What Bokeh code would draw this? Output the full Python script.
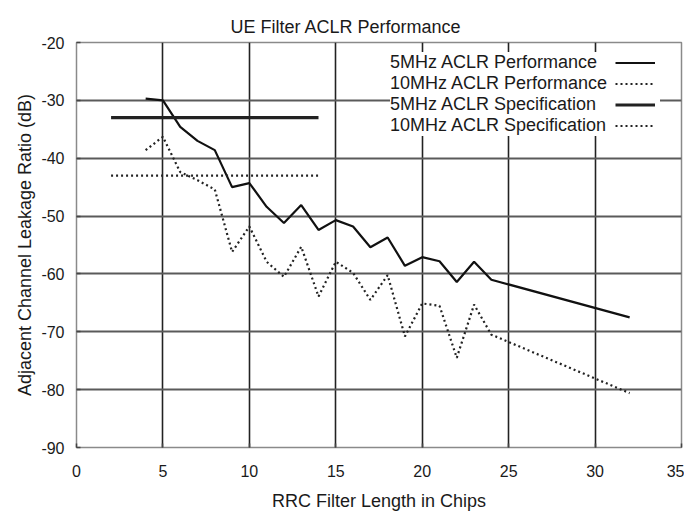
from bokeh.plotting import figure
from bokeh.models import Range1d, Legend, LegendItem, FixedTicker, LinearAxis
from bokeh.embed import file_html
from bokeh.resources import INLINE

# ---- data ----
filter_len = [4, 5, 6, 7, 8, 9, 10, 11, 12, 13, 14, 15, 16, 17, 18, 19, 20, 21, 22, 23, 24, 32]
aclr_5mhz = [-29.7, -30.0, -34.6, -37.0, -38.6, -45.0, -44.3, -48.4, -51.2, -48.1, -52.4,
             -50.7, -51.8, -55.4, -53.7, -58.6, -57.1, -57.8, -61.4, -57.9, -61.0, -67.5]
aclr_10mhz = [-38.6, -36.3, -42.4, -43.8, -45.4, -56.2, -51.8, -57.9, -60.5, -55.3, -63.9,
              -57.9, -59.8, -64.5, -60.2, -70.8, -65.1, -65.5, -74.5, -65.3, -70.5, -80.6]
spec_len = [2, 14]
spec_5mhz = [-33.0, -33.0]
spec_10mhz = [-43.0, -43.0]

x_ticks = [0, 5, 10, 15, 20, 25, 30, 35]
y_ticks = [-90, -80, -70, -60, -50, -40, -30, -20]
x_grid = [5, 10, 15, 20, 25, 30]
y_grid = [-80, -70, -60, -50, -40, -30]

title_text = "UE Filter ACLR Performance"
labels = ["5MHz ACLR Performance", "10MHz ACLR Performance",
          "5MHz ACLR Specification", "10MHz ACLR Specification"]

FONT = "Liberation Sans"
TXT = "#1a1a1a"

p = figure(width=684, height=513, output_backend="svg", toolbar_location=None,
           x_range=Range1d(0, 35), y_range=Range1d(-90, -20), title=title_text,
           min_border_left=76, min_border_right=3, min_border_top=42, min_border_bottom=65)

xax = p.below[0]
yax = p.left[0]

p.title.text_font = FONT
p.title.text_font_size = "18px"
p.title.text_font_style = "normal"
p.title.text_color = TXT
p.title.align = "left"
p.title.offset = 154
p.title.vertical_align = "top"
p.title.standoff = 8

p.outline_line_color = "#8a8a8a"
p.outline_line_width = 1.5
p.background_fill_color = "white"
p.border_fill_color = "white"

for ax, ticks in ((xax, x_ticks), (yax, y_ticks)):
    ax.ticker = FixedTicker(ticks=ticks)
    ax.major_label_overrides = {t: str(t) for t in ticks}
    ax.axis_line_color = None
    ax.major_tick_in = 4
    ax.major_tick_out = 0
    ax.major_tick_line_color = "#444"
    ax.major_tick_line_width = 1.5
    ax.minor_tick_line_color = None
    ax.major_label_text_font = FONT
    ax.major_label_text_font_size = "16px"
    ax.major_label_text_color = TXT
    ax.axis_label_text_font = FONT
    ax.axis_label_text_font_size = "18px"
    ax.axis_label_text_font_style = "normal"
    ax.axis_label_text_color = TXT

xax.axis_label = "RRC Filter Length in Chips"
yax.axis_label = "Adjacent Channel Leakage Ratio (dB)"
xax.major_label_standoff = 17
yax.major_label_standoff = 12
xax.axis_label_standoff = 11
yax.axis_label_standoff = 3

# empty top axis used only as a spacer between the title and the frame
spacer = LinearAxis(ticker=FixedTicker(ticks=[]), axis_line_color=None,
                    major_tick_out=11, major_tick_in=0, major_label_standoff=0,
                    major_tick_line_color=None, minor_tick_line_color=None)
p.add_layout(spacer, "above")

p.xgrid.ticker = FixedTicker(ticks=x_grid)
p.ygrid.ticker = FixedTicker(ticks=y_grid)
p.xgrid.grid_line_color = "#222"
p.xgrid.grid_line_width = 1.6
p.ygrid.grid_line_color = "#5a5a5a"
p.ygrid.grid_line_width = 2

r5 = p.line(filter_len, aclr_5mhz, line_color="#111", line_width=2.2)
r10 = p.line(filter_len, aclr_10mhz, line_color="#222", line_width=2.2, line_dash="2 3")
rs5 = p.line(spec_len, spec_5mhz, line_color="#222", line_width=3.2)
rs10 = p.line(spec_len, spec_10mhz, line_color="#222", line_width=2.2, line_dash="2 3")
rends = [r5, r10, rs5, rs10]

leg_text = Legend(items=[LegendItem(label=l, renderers=[r]) for l, r in zip(labels, rends)],
                  location=(314, 311), glyph_width=0, glyph_height=21, label_height=21,
                  label_width=226, label_standoff=0, spacing=0, padding=4, margin=0,
                  label_text_font=FONT, label_text_font_size="18px",
                  label_text_color=TXT, border_line_color=None,
                  background_fill_color="white", background_fill_alpha=1.0)
leg_glyph = Legend(items=[LegendItem(label="\u00a0", renderers=[r]) for r in rends],
                   location=(539, 311), glyph_width=40, glyph_height=21, label_height=21,
                   label_width=0, label_standoff=0, spacing=0, padding=4, margin=0,
                   label_text_font=FONT, label_text_font_size="18px",
                   border_line_color=None,
                   background_fill_color="white", background_fill_alpha=1.0)
p.add_layout(leg_text, "center")
p.add_layout(leg_glyph, "center")

open("out.html", "w").write(file_html(p, INLINE))
